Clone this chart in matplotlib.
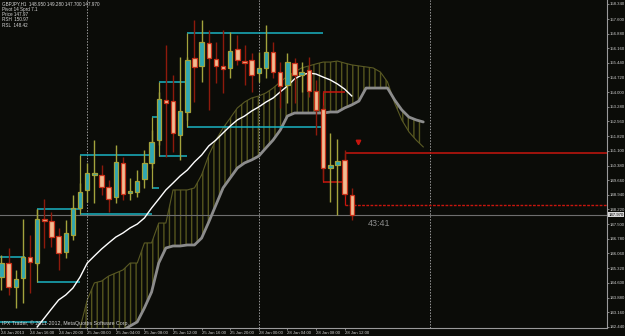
import matplotlib
matplotlib.use("Agg")
import matplotlib.pyplot as plt
import numpy as np

plt.rcParams["font.family"] = ["Liberation Sans", "DejaVu Sans"]

# ---- H1 candles, 24 Jan 12:00 .. 28 Jan 13:00 ----
opens = [144.89, 145.58, 144.40, 144.84, 145.88, 145.58, 147.70, 147.65, 146.91, 146.12,
         146.96, 148.29, 149.18, 149.92, 149.92, 149.33, 148.83, 150.51, 149.03, 149.08,
         149.72, 150.51, 151.64, 153.61, 153.56, 151.89, 153.02, 155.68, 155.29, 156.42,
         155.63, 155.29, 155.19, 156.12, 155.53, 155.58, 154.94, 155.19, 155.98, 154.99,
         154.35, 155.43, 154.84, 155.09, 154.05, 153.17, 150.26, 150.41, 150.66, 148.95]
highs = [145.98, 146.32, 145.24, 147.75, 146.96, 148.24, 148.73, 148.09, 147.31, 147.70,
         148.93, 149.52, 150.51, 151.64, 150.41, 149.67, 151.39, 150.80, 149.77, 150.16,
         151.15, 152.13, 154.01, 156.32, 154.84, 155.73, 155.73, 157.55, 157.55, 157.06,
         156.47, 157.06, 156.96, 156.81, 156.32, 155.93, 155.98, 157.31, 156.47, 155.48,
         155.93, 155.68, 155.48, 155.73, 154.60, 153.37, 151.99, 151.69, 151.15, 149.28]
lows = [144.25, 144.01, 143.37, 143.61, 144.10, 145.48, 146.32, 146.37, 145.24, 145.83,
        146.71, 148.19, 148.59, 148.54, 148.93, 148.09, 148.54, 148.69, 148.69, 148.83,
        149.28, 150.26, 151.39, 150.80, 151.05, 150.66, 152.63, 153.51, 154.50, 153.12,
        154.45, 153.96, 154.70, 155.34, 154.35, 154.01, 154.50, 154.70, 154.70, 153.22,
        153.46, 153.46, 154.01, 153.76, 151.89, 149.67, 148.59, 147.95, 148.88, 147.70]
closes = [145.58, 144.40, 144.79, 145.88, 145.63, 147.75, 147.65, 146.86, 146.07, 147.06,
          148.29, 149.08, 150.02, 149.97, 149.33, 148.73, 150.56, 148.98, 149.08, 149.62,
          150.51, 151.54, 153.66, 153.46, 151.99, 153.07, 155.58, 155.24, 156.47, 155.68,
          155.29, 155.14, 156.02, 155.58, 155.43, 154.84, 155.19, 155.98, 154.99, 154.30,
          155.48, 154.84, 154.99, 154.05, 153.12, 150.26, 150.41, 150.61, 148.98, 147.97]

# white moving average, bars 5..49
ma_start = 5
ma_vals = [142.43, 142.87, 143.32, 143.76, 144.01, 144.35, 144.89, 145.58, 145.93, 146.27,
           146.57, 146.86, 147.06, 147.31, 147.50, 147.80, 148.29, 148.73, 149.18, 149.52,
           149.87, 150.16, 150.56, 150.90, 151.35, 151.64, 151.99, 152.33, 152.63, 152.82,
           153.07, 153.27, 153.51, 153.71, 154.01, 154.30, 154.65, 154.84, 154.94, 154.89,
           154.74, 154.60, 154.40, 154.15, 153.81]

# ichimoku cloud spans (shifted into the future)
span_a_start = 11
span_a = [142.38, 143.76, 144.60, 144.69, 144.94, 145.09, 145.24, 145.58, 145.58, 146.57,
          146.57, 147.55, 147.55, 149.18, 149.18, 149.18, 149.28, 149.92, 150.90, 151.64,
          152.23, 152.72, 153.22, 153.51, 153.71, 153.81, 153.96, 154.20, 154.50, 154.79,
          154.99, 155.19, 155.29, 155.39, 155.48, 155.48, 155.53, 155.43, 155.34, 155.29,
          155.24, 155.19, 154.99, 154.50, 153.46, 152.63, 152.04, 151.64, 151.30]
span_b_start = 17
span_b = [142.28, 142.48, 142.68, 143.37, 144.15, 145.58, 146.32, 146.42, 146.42, 146.47,
          146.47, 146.81, 147.60, 148.44, 149.28, 149.77, 150.26, 150.51, 150.66, 150.85,
          151.25, 151.64, 152.13, 152.82, 152.97, 152.97, 152.97, 152.97, 152.97, 153.02,
          153.02, 153.22, 153.37, 153.56, 154.20, 154.20, 154.20, 154.20, 153.61, 153.12,
          152.77, 152.63, 152.53]

# box levels: (start bar, end bar, top, bottom, colour)
boxes = [
    (-0.5, 3.3, 145.88, None, "cyan"),
    (-0.5, 6.4, None, 142.68, "cyan"),
    (5, 11, 148.24, 144.65, "cyan"),
    (11, 21, 150.90, 148.00, "cyan"),
    (21, 22, 152.77, 149.28, "cyan"),
    (22, 26, 154.50, 150.85, "cyan"),
    (26, 45, 156.91, 152.28, "cyan"),
    (45, 48, 154.01, 149.57, "red"),
]
last_box = (48, 150.99, 148.44)

price_ticks = [158.340, 157.600, 156.880, 156.160, 155.440, 154.720, 154.000, 153.280,
               152.560, 151.820, 151.100, 150.380, 149.660, 148.940, 148.220, 147.500,
               146.780, 146.060, 145.320, 144.600, 143.880, 143.160, 142.440]
time_ticks = list(range(0, 49, 4))
time_labels = ["24 Jan 2013", "24 Jan 16:00", "24 Jan 20:00", "25 Jan 00:00",
               "25 Jan 04:00", "25 Jan 08:00", "25 Jan 12:00", "25 Jan 16:00",
               "25 Jan 20:00", "28 Jan 00:00", "28 Jan 04:00", "28 Jan 08:00",
               "28 Jan 12:00"]
day_breaks = [12, 36, 60]

header = ["GBPJPY,H1  148.950 149.280 147.700 147.970",
          "Pivot 14 Sprd 7.1",
          "Price 147.97",
          "RSH  150.97",
          "RSL  148.42"]

bg = "#0b0c08"
bull_fill = "#2ea7b3"
bull_edge = "#a3a33c"
bear_fill = "#f2bc92"
bear_edge = "#c8321a"
bear_wick = "#8e1a0c"
cyan = "#1ab3c2"
red = "#c8160e"
fs = 3.1

fig = plt.figure(figsize=(6.25, 3.36), dpi=100, facecolor=bg)
ax = fig.add_axes([0, 8 / 336, 607 / 625, 328 / 336])
ax.set_facecolor(bg)
ax.set_xlim(-0.2, 84.7)
ax.set_ylim(142.38, 158.537)
ylo = 142.38

# cloud
xa = np.arange(span_a_start, span_a_start + len(span_a))
a = np.array(span_a)
b = np.full(len(a), ylo - 1.0)
b[span_b_start - span_a_start:] = span_b
ax.fill_between(xa, a, b, facecolor="none", edgecolor="#55551e", hatch="|||",
                linewidth=0, zorder=1)
ax.plot(xa, a, color="#5a5a24", lw=0.8, zorder=1)
xb = np.arange(span_b_start, span_b_start + len(span_b))
ax.plot(xb, span_b, color="#8c8c8c", lw=2.0, zorder=2, solid_capstyle="round")

# day separators
for d in day_breaks:
    ax.axvline(d, color="#9a9a9a", lw=0.7, ls=(0, (1.5, 1.5)), zorder=1)

# box lines
for s, e, top, bot, col in boxes:
    c = cyan if col == "cyan" else red
    if top is not None:
        ax.hlines(top, s, e, color=c, lw=1.1, zorder=2)
    if bot is not None:
        ax.hlines(bot, s, e, color=c, lw=1.1, zorder=2)
    if top is not None and bot is not None:
        ax.vlines(s, bot, top, color=bull_edge if col == "cyan" else red, lw=0.9, zorder=2)
s, top, bot = last_box
ax.hlines(top, s, 84.7, color=red, lw=1.1, zorder=2)
ax.hlines(bot, s, 84.7, color=red, lw=1.0, ls=(0, (2, 1)), zorder=2)
ax.vlines(s, bot, top, color=red, lw=0.9, zorder=2)

# current price line
ax.axhline(closes[-1], color="#6e6e6e", lw=0.8, zorder=1)

# moving average
xm = np.arange(ma_start, ma_start + len(ma_vals))
ax.plot(xm, ma_vals, color="white", lw=1.0, zorder=3)

# candles
w = 0.62
for i, (o, h, l, c) in enumerate(zip(opens, highs, lows, closes)):
    up = c >= o
    ax.vlines(i, l, h, color=bull_edge if up else bear_wick, lw=1.0, zorder=4)
    lo_b = min(o, c)
    hgt = max(abs(c - o), 0.08)
    ax.bar(i, hgt, bottom=lo_b, width=w, color=bull_fill if up else bear_fill,
           edgecolor=bull_edge if up else bear_edge, linewidth=0.9, zorder=5)

# marker and timer
ax.plot(49.9, 151.55, marker="v", color=red, ms=3.2, zorder=5)
ax.text(51.3, 147.75, "43:41", color="#8c8c8c", fontsize=6.5, va="top", ha="left")

# axes styling
for sp in ["top", "left"]:
    ax.spines[sp].set_visible(False)
for sp in ["bottom", "right"]:
    ax.spines[sp].set_color("#9a9a9a")
    ax.spines[sp].set_linewidth(0.8)
ax.yaxis.tick_right()
ax.set_yticks(price_ticks)
ax.set_yticklabels(["%.3f" % p for p in price_ticks])
ax.set_xticks(time_ticks)
ax.set_xticklabels(time_labels, ha="left")
ax.tick_params(axis="both", colors="#9a9a9a", labelcolor="#d0d0d0", labelsize=fs,
               length=1.5, width=0.6, pad=0.6)
ax.tick_params(axis="x", pad=0.3, length=1.5)

# price label box
ax.annotate("%.3f" % closes[-1], xy=(1.0, closes[-1]), xycoords=("axes fraction", "data"),
            xytext=(1.0, 0), textcoords="offset points", fontsize=fs, color="black",
            va="center", ha="left",
            bbox=dict(boxstyle="square,pad=0.15", fc="#d8d8d8", ec="none"))

# header text
for k, line in enumerate(header):
    fig.text(2 / 625, 1 - (4 + 5.3 * k) / 336, line, color="#d8d8d8", fontsize=fs + 0.2,
             va="center", ha="left")
fig.text(2 / 625, 1 - 323 / 336, "IPX Trader, \u00a9 2011-2012, MetaQuotes Software Corp.",
         color="#d0d0d0", fontsize=3.8, va="center", ha="left")

fig.savefig("out.png", dpi=100, facecolor=bg)
